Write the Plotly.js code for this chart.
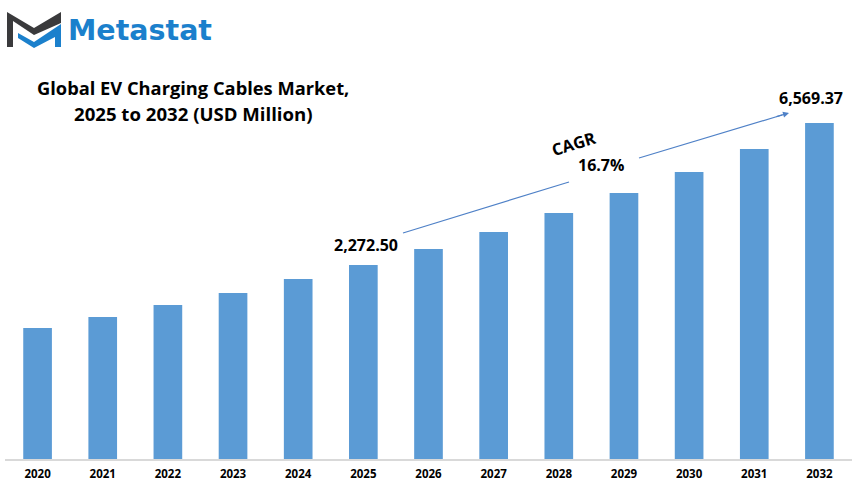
<!DOCTYPE html>
<html><head><meta charset="utf-8">
<script src="https://cdn.plot.ly/plotly-3.0.1.min.js"></script>
<style>html,body{margin:0;padding:0;background:#fff}#c{width:859px;height:485px}</style></head>
<body><div id="c"></div>
<script>
const years=["2020","2021","2022","2023","2024","2025","2026","2027","2028","2029","2030","2031","2032"];
const marketValues=[2561,2776,3011,3245,3519,3793,4106,4438,4810,5200,5611,6061,6569.37];
const W=859,H=485,L=5,R=852,T=100,B=459;
const px=x=>(x-L)/(R-L), py=y=>(B-y)/(B-T);
const poly=(pts,color)=>({type:'path',xref:'paper',yref:'paper',fillcolor:color,line:{width:0},
  path:'M'+pts.map(p=>px(p[0])+','+py(p[1])).join(' L')+' Z'});
const line=(a,b)=>({type:'line',xref:'paper',yref:'paper',x0:px(a[0]),y0:py(a[1]),x1:px(b[0]),y1:py(b[1]),line:{color:'#4f81c7',width:1.2}});
const font='"Open Sans","Noto Sans",sans-serif';
const note=(text,x,y,size,extra)=>Object.assign({text:'<b>'+text+'</b>',xref:'paper',yref:'paper',x:px(x),y:py(y),xanchor:'center',yanchor:'middle',showarrow:false,font:{family:font,size:size,color:'#000'}},extra||{});
const shapes=[
  poly([[7,12],[34,28],[61,12],[61,23],[34,35],[13,21],[13,47],[7,47]],'#3a3a3c'),
  poly([[18,33],[34,42],[61,24],[61,47],[55,47],[55,37],[34,48],[18,38]],'#1b80cc'),
  line([403,233],[569,182]),
  line([639,158],[782,115])
];
const annotations=[
  note('Metastat',140,30,28.5,{font:{family:'"DejaVu Sans",sans-serif',size:28.5,color:'#1b80cc'}}),
  note('Global EV Charging Cables Market,',193,87,18.3),
  note('2025 to 2032 (USD Million)',193,113,18.6),
  note('2,272.50',366,245,16),
  note('6,569.37',811,98,16),
  note('CAGR',573,143,16.5,{textangle:-17}),
  note('16.7%',600.5,165,16),
  {xref:'paper',yref:'paper',axref:'paper',ayref:'paper',x:px(789),y:py(113),ax:px(775),ay:py(117),text:'',showarrow:true,arrowhead:2,arrowsize:1,arrowwidth:1.2,arrowcolor:'#4f81c7'}
];
Plotly.newPlot('c',[{type:'bar',x:years,y:marketValues,marker:{color:'#5b9bd5'},hoverinfo:'x+y'}],{
  width:W,height:H,showlegend:false,bargap:0.56,
  margin:{l:L,r:W-R,t:T,b:H-B,pad:0},
  paper_bgcolor:'#fff',plot_bgcolor:'#fff',
  xaxis:{type:'category',showgrid:false,zeroline:false,showline:true,linecolor:'#d9d9d9',linewidth:1.5,
    ticks:'outside',ticklen:4,tickcolor:'rgba(0,0,0,0)',
    tickfont:{family:font,size:11.5,color:'#000',weight:700},tickangle:0},
  yaxis:{range:[0,7018],visible:false,showgrid:false,zeroline:false},
  shapes,annotations
},{displayModeBar:false,staticPlot:true});
</script></body></html>
